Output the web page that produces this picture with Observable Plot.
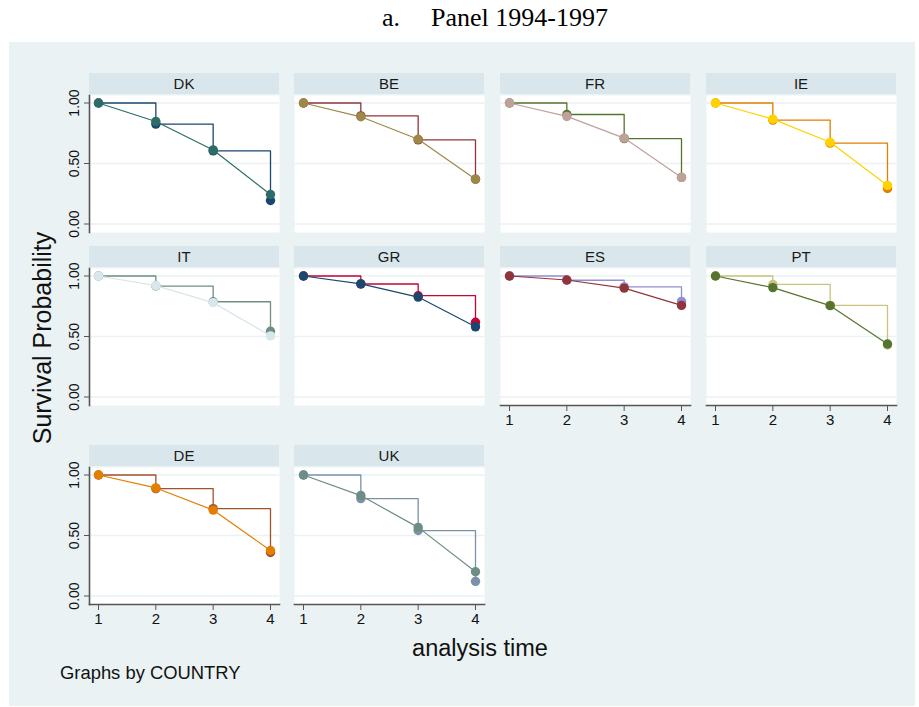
<!DOCTYPE html>
<html><head><meta charset="utf-8">
<script src="https://cdn.jsdelivr.net/npm/d3@7"></script>
<script src="https://cdn.jsdelivr.net/npm/@observablehq/plot@0.6"></script>
<style>
body{margin:0;background:#fff;font-family:"Liberation Sans",Arial,sans-serif;}
#root{position:relative;width:919px;height:707px;overflow:hidden;background:#fff;}
#bg{position:absolute;left:9px;top:42px;width:906px;height:664px;background:#eaf2f3;}
.ttl{position:absolute;top:3px;font-family:"Liberation Serif","Times New Roman",serif;font-size:26px;color:#000;white-space:nowrap;}
.strip{position:absolute;width:190px;height:21px;background:#d9e6eb;text-align:center;font-size:15px;line-height:22px;color:#1a1a1a;}
.panel{position:absolute;}
.lbl{position:absolute;white-space:nowrap;color:#111;}
</style></head>
<body>
<div id="root">
  <div id="bg"></div>
  <div class="ttl" style="left:382px">a.</div>
  <div class="ttl" style="left:431px">Panel 1994-1997</div>
  <div class="lbl" style="left:42px;top:338px;font-size:25px;transform:translate(-50%,-50%) rotate(-90deg);">Survival Probability</div>
  <div class="lbl" style="left:480px;top:648px;font-size:23.5px;transform:translate(-50%,-50%);">analysis time</div>
  <div class="lbl" style="left:60px;top:673px;font-size:18.4px;transform:translate(0,-50%);">Graphs by COUNTRY</div>
</div>
<script>
const countries = ["DK","BE","FR","IE","IT","GR","ES","PT","DE","UK"];
const times = [1, 2, 3, 4];
const xTicks = [1, 2, 3, 4];
const yTicks = [0, 0.5, 1];
// Kaplan-Meier (observed) survival, step line
const kmSurvival = [
  [1, 0.826, 0.604, 0.194], // DK
  [1, 0.894, 0.695, 0.371], // BE
  [1, 0.905, 0.706, 0.385], // FR
  [1, 0.859, 0.668, 0.294], // IE
  [1, 0.917, 0.787, 0.543], // IT
  [1, 0.934, 0.837, 0.618], // GR
  [1, 0.965, 0.910, 0.790], // ES
  [1, 0.930, 0.757, 0.430], // PT
  [1, 0.888, 0.722, 0.360], // DE
  [1, 0.805, 0.541, 0.121]  // UK
];
// Predicted survival, connected line
const fittedSurvival = [
  [1, 0.847, 0.612, 0.244], // DK
  [1, 0.886, 0.700, 0.370], // BE
  [1, 0.889, 0.710, 0.385], // FR
  [1, 0.867, 0.676, 0.319], // IE
  [1, 0.920, 0.780, 0.505], // IT
  [1, 0.935, 0.826, 0.580], // GR
  [1, 0.967, 0.900, 0.757], // ES
  [1, 0.904, 0.755, 0.438], // PT
  [1, 0.893, 0.710, 0.376], // DE
  [1, 0.830, 0.567, 0.200]  // UK
];
const kmColors  = ["#1a476f","#90353b","#55752f","#e37e00","#6e8e84","#c10534","#938dd2","#cac27e","#a0522d","#7b92a8"];
const fitColors = ["#2d6d66","#9c8847","#bfa19c","#ffd200","#d9e6eb","#1a476f","#90353b","#55752f","#e37e00","#6e8e84"];

const colLeft = [89, 294, 500, 706];
const rowTop = [95, 268, 467];
const PW = 190, PH = 137, ML = 45, MR = 5, MB = 35;
const root = document.getElementById("root");

countries.forEach((c, i) => {
  const row = Math.floor(i / 4), col = i % 4;
  const showY = col === 0;
  const showX = row === 2 || (row === 1 && col >= 2);
  const km = times.map((t, k) => ({t, s: kmSurvival[i][k]}));
  const fit = times.map((t, k) => ({t, s: fittedSurvival[i][k]}));
  const marks = [
    Plot.frame({fill: "white", stroke: "none"}),
    Plot.ruleY(yTicks, {stroke: "#eaf2f3", strokeWidth: 1.5})
  ];
  if (showY) {
    marks.push(Plot.frame({anchor: "left", stroke: "#555555", strokeWidth: 1.6}));
    marks.push(Plot.axisY(yTicks, {label: null, tickSize: 5, tickPadding: 6, tickRotate: -90, tickFormat: d3.format(".2f"), fontSize: 14, stroke: "#555555", fill: "#111"}));
  }
  if (showX) {
    marks.push(Plot.frame({anchor: "bottom", stroke: "#555555", strokeWidth: 1.6}));
    marks.push(Plot.axisX(xTicks, {label: null, tickSize: 6, tickPadding: 3, tickFormat: d3.format("d"), fontSize: 15, stroke: "#555555", fill: "#111"}));
  }
  marks.push(
    Plot.line(km, {x: "t", y: "s", curve: "step-after", stroke: kmColors[i], strokeWidth: 1.3}),
    Plot.dot(km, {x: "t", y: "s", r: 4.7, fill: kmColors[i], stroke: "none"}),
    Plot.line(fit, {x: "t", y: "s", stroke: fitColors[i], strokeWidth: 1.2}),
    Plot.dot(fit, {x: "t", y: "s", r: 4.7, fill: fitColors[i], stroke: "none"})
  );
  const svg = Plot.plot({
    width: ML + PW + MR,
    height: PH + MB,
    marginLeft: ML, marginRight: MR, marginTop: 0, marginBottom: MB,
    style: {background: "transparent", fontFamily: "Liberation Sans, Arial, sans-serif", overflow: "visible"},
    x: {domain: [1, 4], insetLeft: 9, insetRight: 9, axis: null},
    y: {domain: [0, 1], insetTop: 7.5, insetBottom: 8.5, axis: null},
    marks
  });
  svg.classList.add("panel");
  svg.style.left = (colLeft[col] - ML) + "px";
  svg.style.top = rowTop[row] + "px";
  root.appendChild(svg);
  const strip = document.createElement("div");
  strip.className = "strip";
  strip.style.left = colLeft[col] + "px";
  strip.style.top = (rowTop[row] - 22) + "px";
  strip.textContent = c;
  root.appendChild(strip);
});
</script>
</body></html>
